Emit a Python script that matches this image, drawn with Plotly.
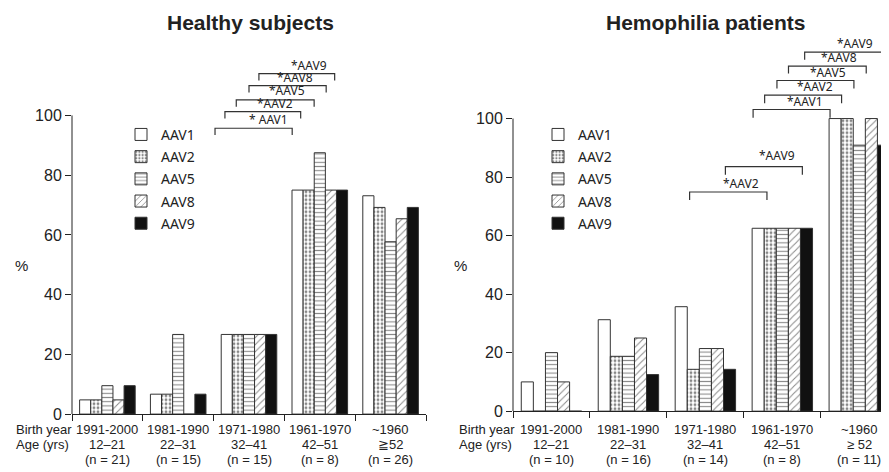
import plotly.graph_objects as go

W, H = 889, 472

SEROTYPES = ["AAV1", "AAV2", "AAV5", "AAV8", "AAV9"]
PATTERNS = ["", ".", "-", "/", ""]
FILLS = ["white", "white", "white", "white", "#111111"]

BIRTH_YEARS = ["1991-2000", "1981-1990", "1971-1980", "1961-1970", "~1960"]
AGES_LEFT = ["12–21", "22–31", "32–41", "42–51", "≧52"]
AGES_RIGHT = ["12–21", "22–31", "32–41", "42–51", "≥ 52"]
N_LEFT = ["(n = 21)", "(n = 15)", "(n = 15)", "(n = 8)", "(n = 26)"]
N_RIGHT = ["(n = 10)", "(n = 16)", "(n = 14)", "(n = 8)", "(n = 11)"]

# Healthy subjects (% seropositive), per serotype across 5 age groups
healthy_aav1 = [4.76, 6.67, 26.67, 75.0, 73.1]
healthy_aav2 = [4.76, 6.67, 26.67, 75.0, 69.2]
healthy_aav5 = [9.52, 26.67, 26.67, 87.5, 57.7]
healthy_aav8 = [4.76, 0.0, 26.67, 75.0, 65.4]
healthy_aav9 = [9.52, 6.67, 26.67, 75.0, 69.2]

# Hemophilia patients
hemo_aav1 = [10.0, 31.25, 35.7, 62.5, 100.0]
hemo_aav2 = [0.0, 18.75, 14.3, 62.5, 100.0]
hemo_aav5 = [20.0, 18.75, 21.4, 62.5, 90.9]
hemo_aav8 = [10.0, 25.0, 21.4, 62.5, 100.0]
hemo_aav9 = [0.0, 12.5, 14.3, 62.5, 90.9]

HEALTHY = [healthy_aav1, healthy_aav2, healthy_aav5, healthy_aav8, healthy_aav9]
HEMO = [hemo_aav1, hemo_aav2, hemo_aav5, hemo_aav8, hemo_aav9]

YTICKS = [0, 20, 40, 60, 80, 100]

# significance brackets: label, x start, x end, y top, y of tick ends, label x, label y
BRACKETS_LEFT = [
    ("* AAV1", 1.52, 2.61, 95.7, 93.4, 2.27, 98.6),
    ("*AAV2", 1.66, 2.73, 101.3, 99.0, 2.37, 103.9),
    ("*AAV5", 1.82, 2.92, 105.2, 102.9, 2.54, 108.2),
    ("*AAV8", 2.00, 3.09, 110.0, 107.7, 2.65, 112.6),
    ("*AAV9", 2.14, 3.21, 114.0, 111.7, 2.85, 116.8),
]
BRACKETS_RIGHT = [
    ("*AAV2", 1.795, 2.80, 74.9, 72.2, 2.46, 77.8),
    ("*AAV9", 2.26, 3.26, 83.6, 80.8, 2.93, 87.3),
    ("*AAV1", 2.62, 3.62, 103.1, 100.3, 3.29, 105.8),
    ("*AAV2", 2.77, 3.77, 108.0, 105.2, 3.43, 110.9),
    ("*AAV5", 2.93, 3.93, 113.0, 110.3, 3.59, 115.9),
    ("*AAV8", 3.08, 4.09, 117.9, 115.4, 3.74, 120.7),
    ("*AAV9", 3.29, 4.29, 122.7, 120.1, 3.95, 125.6),
]

ARIAL = "Liberation Sans, Arial, sans-serif"
SANS = "Noto Sans, Open Sans, sans-serif"
INK = "#222222"

fig = go.Figure()
xs = list(range(5))

PAT_SIZE = {".": 4, "-": 4.2, "/": 5}
PAT_SOL = {".": 0.4, "-": 0.26, "/": 0.2}

def add_bars(data, xa, ya, legend, prefix):
    for name, vals, pat, fill in zip(SEROTYPES, data, PATTERNS, FILLS):
        marker = dict(color=fill, line=dict(color="#333333", width=1))
        if pat:
            marker["pattern"] = dict(shape=pat, fgcolor="#111111", bgcolor="white",
                                     size=PAT_SIZE[pat], solidity=PAT_SOL[pat])
        fig.add_trace(go.Bar(x=xs, y=vals, name=name, marker=marker, xaxis=xa, yaxis=ya,
                             legend=legend, legendgroup=prefix + name, showlegend=True,
                             hoverinfo="skip"))

add_bars(HEALTHY, "x", "y", "legend", "L")
add_bars(HEMO, "x2", "y2", "legend2", "R")

def add_brackets(brs, xa, ya):
    for lab, x0, x1, yt, yb, lx, ly in brs:
        fig.add_trace(go.Scatter(x=[x0, x0, x1, x1], y=[yb, yt, yt, yb], mode="lines",
                                 line=dict(color="#333333", width=1.2), xaxis=xa, yaxis=ya,
                                 showlegend=False, hoverinfo="skip"))
        fig.add_annotation(x=lx, y=ly, xref=xa, yref=ya, text=lab, showarrow=False,
                           font=dict(family=SANS, size=12, color=INK), borderpad=0,
                           xanchor="center", yanchor="middle")

add_brackets(BRACKETS_LEFT, "x", "y")
add_brackets(BRACKETS_RIGHT, "x2", "y2")

# geometry (pixels)
L_X0, L_X1, L_Y0, L_Y100 = 64, 418, 414, 109.5
R_X0, R_X1, R_Y0, R_Y100 = 505, 889, 411, 112.7
YMAX = 130

def ydom(y0, y100):
    top = y0 - (y0 - y100) * YMAX / 100
    return [1 - y0 / H, 1 - top / H]

axis_common = dict(showgrid=False, zeroline=False, ticks="outside", ticklen=6,
                   tickcolor=INK, linecolor=INK, linewidth=1)

legend_common = dict(xanchor="left", yanchor="top", font=dict(family=SANS, size=14, color=INK),
                     bgcolor="rgba(0,0,0,0)", tracegroupgap=1.0, itemclick=False,
                     itemdoubleclick=False)

fig.update_layout(
    width=W, height=H, margin=dict(l=0, r=0, t=0, b=0),
    paper_bgcolor="white", plot_bgcolor="rgba(0,0,0,0)",
    barmode="group", bargap=0.215, bargroupgap=0,
    xaxis=dict(domain=[L_X0 / W, L_X1 / W], range=[-0.5, 4.5], showline=True,
               tickvals=[-0.5, 0.5, 1.5, 2.5, 3.5, 4.5], ticktext=[""] * 6, **axis_common),
    yaxis=dict(domain=ydom(L_Y0, L_Y100), range=[0, YMAX], showline=False, tickvals=YTICKS,
               tickfont=dict(family=ARIAL, size=16, color=INK), **axis_common),
    xaxis2=dict(domain=[R_X0 / W, R_X1 / W], range=[-0.5, 4.49], showline=True, anchor="y2",
                tickvals=[-0.5, 0.5, 1.5, 2.5, 3.5, 4.5], ticktext=[""] * 6, **axis_common),
    yaxis2=dict(domain=ydom(R_Y0, R_Y100), range=[0, YMAX], showline=False, anchor="x2",
                tickvals=YTICKS, tickfont=dict(family=ARIAL, size=16, color=INK), **axis_common),
    legend=dict(x=113 / W, y=1 - 113 / H, **legend_common),
    legend2=dict(x=530 / W, y=1 - 113 / H, **legend_common),
    showlegend=True,
)

# y axis lines only from 0 to 100
for xa, ya in [("x", "y"), ("x2", "y2")]:
    fig.add_shape(type="line", xref=f"{xa} domain", yref=ya, x0=0, x1=0, y0=0, y1=100,
                  line=dict(color=INK, width=1))

# titles
fig.add_annotation(x=242 / W, y=1 - 15 / H, xref="paper", yref="paper", text="<b>Healthy subjects</b>",
                   showarrow=False, font=dict(family=ARIAL, size=21, color=INK),
                   xanchor="center", yanchor="middle")
fig.add_annotation(x=698 / W, y=1 - 15 / H, xref="paper", yref="paper", text="<b>Hemophilia patients</b>",
                   showarrow=False, font=dict(family=ARIAL, size=21, color=INK),
                   xanchor="center", yanchor="middle")

# % labels
for px in [13, 452]:
    fig.add_annotation(x=px / W, y=1 - 262 / H, xref="paper", yref="paper", text="%",
                       showarrow=False, font=dict(family=ARIAL, size=15, color=INK),
                       xanchor="center", yanchor="middle")

# category labels
ROWS_Y = [429.5, 444.5, 460.5]
def add_cats(xa, ages, ns, left_px):
    for i in range(5):
        for row, txt in zip(ROWS_Y, [BIRTH_YEARS[i], ages[i], ns[i]]):
            fig.add_annotation(x=i, y=1 - row / H, xref=xa, yref="paper", text=txt, showarrow=False,
                               font=dict(family=ARIAL, size=13, color=INK),
                               xanchor="center", yanchor="middle")
    for row, txt in zip(ROWS_Y[:2], ["Birth year", "Age (yrs)"]):
        fig.add_annotation(x=left_px / W, y=1 - row / H, xref="paper", yref="paper", text=txt,
                           showarrow=False, font=dict(family=ARIAL, size=13, color=INK),
                           xanchor="left", yanchor="middle")

add_cats("x", AGES_LEFT, N_LEFT, 6)
add_cats("x2", AGES_RIGHT, N_RIGHT, 449)

fig.write_html("out.html")
